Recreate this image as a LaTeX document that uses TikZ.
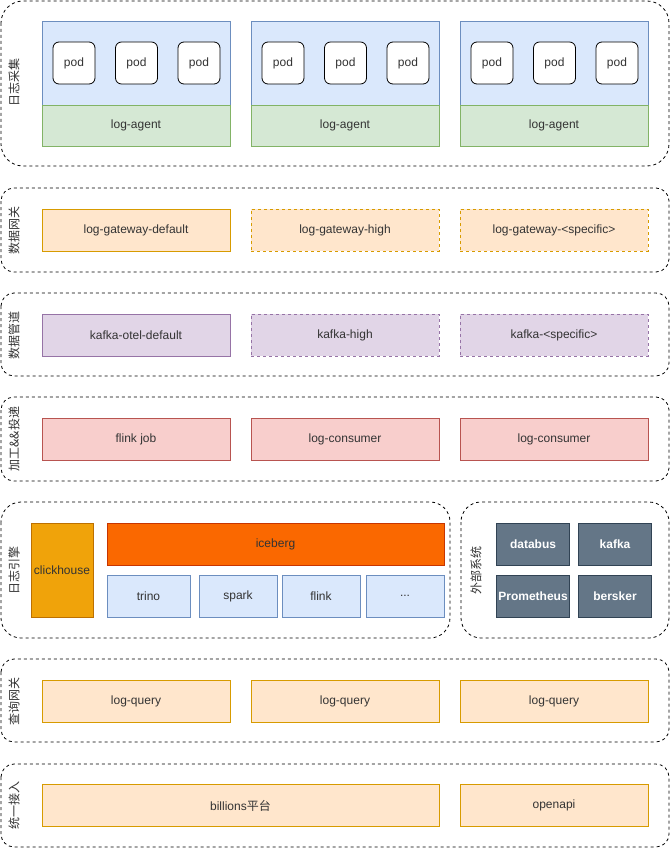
\documentclass[tikz,border=0pt]{standalone}
\usepackage{fontspec}
\setmainfont{Liberation Sans}
\newfontfamily\cjk{Noto Sans CJK SC}

\definecolor{bluefill}{HTML}{DAE8FC}\definecolor{bluedraw}{HTML}{6C8EBF}
\definecolor{greenfill}{HTML}{D5E8D4}\definecolor{greendraw}{HTML}{82B366}
\definecolor{orangefill}{HTML}{FFE6CC}\definecolor{orangedraw}{HTML}{D79B00}
\definecolor{purplefill}{HTML}{E1D5E7}\definecolor{purpledraw}{HTML}{9673A6}
\definecolor{redfill}{HTML}{F8CECC}\definecolor{reddraw}{HTML}{B85450}
\definecolor{chfill}{HTML}{F0A30A}\definecolor{chdraw}{HTML}{BD7000}
\definecolor{icefill}{HTML}{FA6800}\definecolor{icedraw}{HTML}{C73500}
\definecolor{extfill}{HTML}{647687}\definecolor{extdraw}{HTML}{314354}
\definecolor{txt}{HTML}{333333}

\tikzset{
	layer/.style={draw=black, line width=0.8pt, dash pattern=on 3pt off 3pt},
	layerlabel/.style={rotate=90, text=txt, font=\cjk\fontsize{12}{14}\selectfont, inner sep=0pt},
	box/.style={draw, line width=0.8pt, inner sep=0pt, minimum width=188, minimum height=42,
		text=txt, font=\fontsize{12}{14}\selectfont},
	dashbox/.style={box, dash pattern=on 3pt off 3pt},
	podbox/.style={box, fill=white, draw=black, rounded corners=6, minimum width=42, minimum height=42},
	agentbox/.style={box, fill=greenfill, draw=greendraw, minimum height=41},
	gatewaybox/.style={fill=orangefill, draw=orangedraw},
	kafkabox/.style={fill=purplefill, draw=purpledraw},
	jobbox/.style={box, fill=redfill, draw=reddraw},
	enginebox/.style={box, fill=bluefill, draw=bluedraw, minimum width=78},
	extbox/.style={box, fill=extfill, draw=extdraw, text=white, minimum width=73,
		font=\bfseries\fontsize{12}{14}\selectfont},
}

\begin{document}
\begin{tikzpicture}[x=1pt, y=-1pt]
		\useasboundingbox (0, 0) rectangle (670, 848);
		
		%%%%% 日志采集 %%%%%
		\draw[layer, rounded corners=22] (1, 1) rectangle (669, 166);
		\node[layerlabel] (collect) at (14, 83) {日志采集};
		\foreach \g/\x in {1/42, 2/251, 3/460} {
			\draw[line width=0.8pt, fill=bluefill, draw=bluedraw] (\x, 21) rectangle ++(188, 84);
			\node[podbox] (pod-\g-1) at (\x+32, 63) {pod};
			\node[podbox] (pod-\g-2) at (\x+94.5, 63) {pod};
			\node[podbox] (pod-\g-3) at (\x+157, 63) {pod};
			\node[agentbox] (agent-\g) at (\x+94, 125.5) {log-agent};
		}
		
		%%%%% 数据网关 %%%%%
		\draw[layer, rounded corners=13] (1, 188) rectangle (669, 272);
		\node[layerlabel] (gateway) at (14, 230) {数据网关};
		\node[box, gatewaybox] (gw-default) at (136, 230) {log-gateway-default};
		\node[dashbox, gatewaybox] (gw-high) at (345, 230) {log-gateway-high};
		\node[dashbox, gatewaybox] (gw-specific) at (554, 230) {log-gateway-<specific>};
		
		%%%%% 数据管道 %%%%%
		\draw[layer, rounded corners=13] (1, 293) rectangle (669, 376);
		\node[layerlabel] (pipe) at (14, 335) {数据管道};
		\node[box, kafkabox] (kafka-default) at (136, 335) {kafka-otel-default};
		\node[dashbox, kafkabox] (kafka-high) at (345, 335) {kafka-high};
		\node[dashbox, kafkabox] (kafka-specific) at (554, 335) {kafka-<specific>};
		
		%%%%% 加工&&投递 %%%%%
		\draw[layer, rounded corners=13] (1, 397) rectangle (669, 481);
		\node[layerlabel] (process) at (14, 439) {加工\&\&投递};
		\node[jobbox] (flink-job) at (136, 439) {flink job};
		\node[jobbox] (consumer-1) at (345, 439) {log-consumer};
		\node[jobbox] (consumer-2) at (554, 439) {log-consumer};
		
		%%%%% 日志引擎 %%%%%
		\draw[layer, rounded corners=20] (1, 502) rectangle (450, 638);
		\node[layerlabel] (engine) at (14, 570) {日志引擎};
		\node[box, fill=chfill, draw=chdraw, minimum width=62, minimum height=94] (clickhouse) at (62, 570) {clickhouse};
		\node[box, fill=icefill, draw=icedraw, minimum width=337] (iceberg) at (275.5, 544) {iceberg};
		\node[enginebox, minimum width=83] (trino) at (148.5, 596) {trino};
		\node[enginebox] (spark) at (238, 596) {spark};
		\node[enginebox] (flink) at (321, 596) {flink};
		\node[enginebox] (more) at (405, 596) {...};
		
		%%%%% 外部系统 %%%%%
		\draw[layer, rounded corners=20] (461, 502) rectangle (669, 638);
		\node[layerlabel] (external) at (476, 570) {外部系统};
		\node[extbox] (databus) at (533, 544) {databus};
		\node[extbox] (kafka) at (615, 544) {kafka};
		\node[extbox] (prometheus) at (533, 596) {Prometheus};
		\node[extbox] (bersker) at (615, 596) {bersker};
		
		%%%%% 查询网关 %%%%%
		\draw[layer, rounded corners=13] (1, 659) rectangle (669, 742);
		\node[layerlabel] (query) at (14, 701) {查询网关};
		\node[box, gatewaybox] (query-1) at (136, 701) {log-query};
		\node[box, gatewaybox] (query-2) at (345, 701) {log-query};
		\node[box, gatewaybox] (query-3) at (554, 701) {log-query};
		
		%%%%% 统一接入 %%%%%
		\draw[layer, rounded corners=13] (1, 764) rectangle (669, 847);
		\node[layerlabel] (access) at (14, 805.5) {统一接入};
		\node[box, gatewaybox, minimum width=397] (billions) at (240.5, 805.5) {billions{\cjk 平台}};
		\node[box, gatewaybox] (openapi) at (554, 805.5) {openapi};
		
		%%%%% END %%%%%
	\end{tikzpicture}
\end{document}
